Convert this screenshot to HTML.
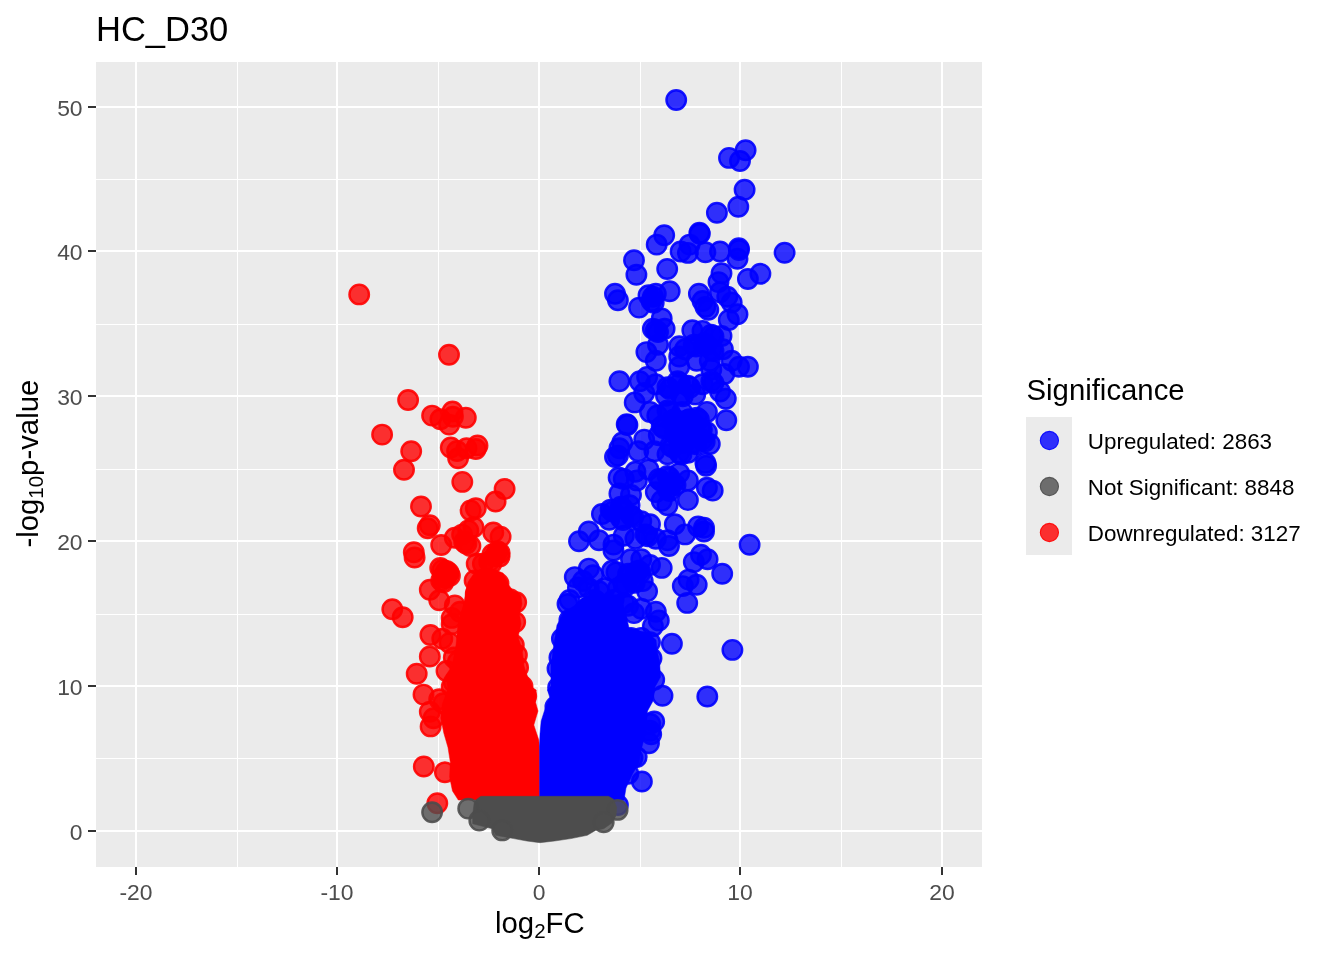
<!DOCTYPE html>
<html><head><meta charset="utf-8"><title>HC_D30</title>
<style>
html,body{margin:0;padding:0;background:#fff;}
body{width:1344px;height:960px;overflow:hidden;font-family:"Liberation Sans",sans-serif;}
svg{display:block}
text{font-family:"Liberation Sans",sans-serif;}
.ax{font-size:22.9px;fill:#4d4d4d}
.lt{font-size:22.4px;fill:#000}
.ti{font-size:29.33px;fill:#000}
.r circle{fill:#ff0000;fill-opacity:.8;stroke:#ff0000;stroke-opacity:.9;stroke-width:2.4}
.b circle{fill:#0000ff;fill-opacity:.8;stroke:#0000ff;stroke-opacity:.9;stroke-width:2.4}
.g circle{fill:#4d4d4d;fill-opacity:.8;stroke:#4d4d4d;stroke-opacity:.9;stroke-width:2.4}
</style></head><body>
<svg width="1344" height="960" viewBox="0 0 1344 960">
<rect width="1344" height="960" fill="#fff"/>

<rect x="96" y="62" width="886" height="805" fill="#ebebeb"/>
<g fill="#fff" shape-rendering="crispEdges"><rect x="237" y="62" width="1" height="805"/><rect x="438" y="62" width="1" height="805"/><rect x="640" y="62" width="1" height="805"/><rect x="841" y="62" width="1" height="805"/><rect x="96" y="179" width="886" height="1"/><rect x="96" y="324" width="886" height="1"/><rect x="96" y="469" width="886" height="1"/><rect x="96" y="614" width="886" height="1"/><rect x="96" y="758" width="886" height="1"/><rect x="135" y="62" width="2" height="805"/><rect x="336" y="62" width="2" height="805"/><rect x="538" y="62" width="2" height="805"/><rect x="739" y="62" width="2" height="805"/><rect x="941" y="62" width="2" height="805"/><rect x="96" y="106" width="886" height="2"/><rect x="96" y="250" width="886" height="2"/><rect x="96" y="395" width="886" height="2"/><rect x="96" y="540" width="886" height="2"/><rect x="96" y="685" width="886" height="2"/><rect x="96" y="830" width="886" height="2"/></g>
<text class="ax" x="136" y="899.5" text-anchor="middle">-20</text>
<text class="ax" x="337" y="899.5" text-anchor="middle">-10</text>
<text class="ax" x="539" y="899.5" text-anchor="middle">0</text>
<text class="ax" x="740" y="899.5" text-anchor="middle">10</text>
<text class="ax" x="942" y="899.5" text-anchor="middle">20</text>
<text class="ax" x="82.6" y="115.90" text-anchor="end">50</text>
<text class="ax" x="82.6" y="259.90" text-anchor="end">40</text>
<text class="ax" x="82.6" y="404.90" text-anchor="end">30</text>
<text class="ax" x="82.6" y="549.90" text-anchor="end">20</text>
<text class="ax" x="82.6" y="694.90" text-anchor="end">10</text>
<text class="ax" x="82.6" y="839.90" text-anchor="end">0</text>
<g fill="#333" shape-rendering="crispEdges"><rect x="135" y="867" width="2" height="8"/><rect x="336" y="867" width="2" height="8"/><rect x="538" y="867" width="2" height="8"/><rect x="739" y="867" width="2" height="8"/><rect x="941" y="867" width="2" height="8"/><rect x="88" y="106" width="8" height="2"/><rect x="88" y="250" width="8" height="2"/><rect x="88" y="395" width="8" height="2"/><rect x="88" y="540" width="8" height="2"/><rect x="88" y="685" width="8" height="2"/><rect x="88" y="830" width="8" height="2"/></g>
<text x="96" y="41.3" font-size="34.5" fill="#000">HC_D30</text>
<text class="ti" x="495" y="932.5">log<tspan font-size="20.5" dy="5.6">2</tspan><tspan dy="-5.6">FC</tspan></text>
<text class="ti" transform="translate(37.5,547.6) rotate(-90)">-log<tspan font-size="20.5" dy="5.6">10</tspan><tspan dy="-5.6">p-value</tspan></text>
<text class="ti" x="1026.5" y="399.5">Significance</text>
<rect x="1026" y="417" width="46" height="138" fill="#ebebeb"/>
<circle cx="1049.4" cy="440.5" r="9.1" fill="#0000ff" fill-opacity=".8" stroke="#0000ff" stroke-opacity=".9" stroke-width="1.1"/>
<text class="lt" x="1087.8" y="448.8">Upregulated: 2863</text>
<circle cx="1049.4" cy="486.5" r="9.1" fill="#4d4d4d" fill-opacity=".8" stroke="#4d4d4d" stroke-opacity=".9" stroke-width="1.1"/>
<text class="lt" x="1087.8" y="494.8">Not Significant: 8848</text>
<circle cx="1049.4" cy="532.5" r="9.1" fill="#ff0000" fill-opacity=".8" stroke="#ff0000" stroke-opacity=".9" stroke-width="1.1"/>
<text class="lt" x="1087.8" y="540.8">Downregulated: 3127</text>
<svg x="96" y="62" width="886" height="805" viewBox="96 62 886 805">
<g class="r">
<path d="M468.0,582.0 L475.0,572.0 L490.0,568.0 L503.0,573.0 L508.0,584.0 L514.0,592.0 L521.0,596.0 L522.0,604.0 L519.5,614.0 L521.0,624.0 L518.0,637.0 L522.0,649.0 L524.0,666.0 L527.0,675.0 L533.0,688.0 L536.2,690.0 L535.6,702.5 L538.0,711.0 L533.8,725.0 L538.8,740.0 L539.6,751.0 L539.6,800.0 L458.3,800.0 L452.5,791.0 L449.6,777.0 L450.3,762.0 L448.0,747.5 L443.8,733.0 L440.8,718.0 L442.3,704.0 L448.0,689.0 L446.0,675.0 L452.0,666.0 L456.0,645.0 L458.0,624.0 L464.0,603.0 L466.0,590.0Z" fill="#ff0000" stroke="#ff0000" stroke-width="0.5" stroke-linejoin="round"/>
<circle cx="427.7" cy="528.3" r="9.75"/><circle cx="429.8" cy="525.2" r="9.75"/><circle cx="413.8" cy="552.3" r="9.75"/><circle cx="414.6" cy="557.5" r="9.75"/><circle cx="392.3" cy="609.2" r="9.75"/><circle cx="402.7" cy="617.3" r="9.75"/><circle cx="441.2" cy="545.0" r="9.75"/><circle cx="454.8" cy="537.7" r="9.75"/><circle cx="462.1" cy="534.6" r="9.75"/><circle cx="468.3" cy="530.4" r="9.75"/><circle cx="473.5" cy="527.3" r="9.75"/><circle cx="464.2" cy="541.9" r="9.75"/><circle cx="470.4" cy="546.0" r="9.75"/><circle cx="493.3" cy="532.5" r="9.75"/><circle cx="500.6" cy="536.7" r="9.75"/><circle cx="497.5" cy="551.2" r="9.75"/><circle cx="499.6" cy="556.5" r="9.75"/><circle cx="440.2" cy="567.9" r="9.75"/><circle cx="446.5" cy="571.0" r="9.75"/><circle cx="443.3" cy="576.2" r="9.75"/><circle cx="441.2" cy="580.4" r="9.75"/><circle cx="429.8" cy="589.8" r="9.75"/><circle cx="439.2" cy="600.2" r="9.75"/><circle cx="476.7" cy="563.8" r="9.75"/><circle cx="482.9" cy="563.8" r="9.75"/><circle cx="489.2" cy="561.7" r="9.75"/><circle cx="474.6" cy="580.4" r="9.75"/><circle cx="485.0" cy="582.5" r="9.75"/><circle cx="498.5" cy="583.5" r="9.75"/><circle cx="454.8" cy="605.4" r="9.75"/><circle cx="451.7" cy="617.9" r="9.75"/><circle cx="460.0" cy="611.7" r="9.75"/><circle cx="451.7" cy="624.2" r="9.75"/><circle cx="516.2" cy="602.3" r="9.75"/><circle cx="510.0" cy="599.2" r="9.75"/><circle cx="515.2" cy="622.1" r="9.75"/><circle cx="430.4" cy="635.0" r="9.75"/><circle cx="442.3" cy="638.8" r="9.75"/><circle cx="449.6" cy="642.9" r="9.75"/><circle cx="429.8" cy="656.5" r="9.75"/><circle cx="453.8" cy="657.5" r="9.75"/><circle cx="457.9" cy="661.7" r="9.75"/><circle cx="416.7" cy="673.8" r="9.75"/><circle cx="446.5" cy="671.0" r="9.75"/><circle cx="423.5" cy="694.6" r="9.75"/><circle cx="439.2" cy="699.2" r="9.75"/><circle cx="453.8" cy="682.5" r="9.75"/><circle cx="451.7" cy="686.7" r="9.75"/><circle cx="429.8" cy="711.7" r="9.75"/><circle cx="443.3" cy="703.3" r="9.75"/><circle cx="359.2" cy="294.4" r="9.75"/><circle cx="449.0" cy="354.8" r="9.75"/><circle cx="408.1" cy="400.0" r="9.75"/><circle cx="382.1" cy="434.6" r="9.75"/><circle cx="432.1" cy="415.6" r="9.75"/><circle cx="440.4" cy="419.2" r="9.75"/><circle cx="452.5" cy="411.5" r="9.75"/><circle cx="452.9" cy="416.7" r="9.75"/><circle cx="449.2" cy="424.6" r="9.75"/><circle cx="465.8" cy="417.7" r="9.75"/><circle cx="411.2" cy="451.2" r="9.75"/><circle cx="404.0" cy="469.8" r="9.75"/><circle cx="450.8" cy="447.5" r="9.75"/><circle cx="457.1" cy="451.0" r="9.75"/><circle cx="458.1" cy="458.3" r="9.75"/><circle cx="466.5" cy="448.3" r="9.75"/><circle cx="475.8" cy="449.0" r="9.75"/><circle cx="477.5" cy="445.4" r="9.75"/><circle cx="462.3" cy="481.9" r="9.75"/><circle cx="504.6" cy="489.0" r="9.75"/><circle cx="495.6" cy="501.5" r="9.75"/><circle cx="421.0" cy="506.5" r="9.75"/><circle cx="470.6" cy="510.4" r="9.75"/><circle cx="475.8" cy="508.3" r="9.75"/><circle cx="492.5" cy="554.2" r="9.75"/><circle cx="447.7" cy="574.0" r="9.75"/><circle cx="484.2" cy="579.2" r="9.75"/><circle cx="494.6" cy="587.5" r="9.75"/><circle cx="475.8" cy="593.8" r="9.75"/><circle cx="488.3" cy="595.8" r="9.75"/><circle cx="502.9" cy="597.9" r="9.75"/><circle cx="437.3" cy="803.3" r="9.75"/><circle cx="444.9" cy="772.3" r="9.75"/><circle cx="430.6" cy="726.4" r="9.75"/><circle cx="433.5" cy="718.3" r="9.75"/><circle cx="423.8" cy="766.5" r="9.75"/><circle cx="513.8" cy="645.0" r="9.75"/><circle cx="516.9" cy="655.0" r="9.75"/><circle cx="518.1" cy="667.5" r="9.75"/><circle cx="522.5" cy="686.2" r="9.75"/><circle cx="526.2" cy="696.2" r="9.75"/><circle cx="466.4" cy="543.7" r="9.75"/><circle cx="499.7" cy="553.0" r="9.75"/><circle cx="442.4" cy="569.7" r="9.75"/><circle cx="448.7" cy="572.8" r="9.75"/><circle cx="445.5" cy="578.0" r="9.75"/><circle cx="443.4" cy="582.2" r="9.75"/><circle cx="491.4" cy="563.5" r="9.75"/><circle cx="487.2" cy="584.3" r="9.75"/><circle cx="482.6" cy="583.7" r="9.75"/><circle cx="494.7" cy="556.0" r="9.75"/><circle cx="449.9" cy="575.8" r="9.75"/><circle cx="486.4" cy="581.0" r="9.75"/><circle cx="496.8" cy="589.3" r="9.75"/><circle cx="490.5" cy="597.6" r="9.75"/><circle cx="505.1" cy="599.7" r="9.75"/>
</g>
<g class="b">
<path d="M539.6,800.0 L539.6,751.0 L539.5,746.0 L540.0,734.0 L541.2,721.0 L545.0,709.0 L549.8,697.5 L547.5,690.0 L551.0,686.0 L551.0,665.0 L554.5,640.0 L557.0,625.0 L564.0,612.0 L574.0,606.0 L582.0,598.0 L600.0,594.0 L620.0,595.0 L625.0,610.0 L629.0,628.0 L648.0,633.0 L656.0,640.0 L657.0,650.0 L659.5,661.0 L660.5,677.0 L655.0,687.0 L653.0,701.0 L647.5,711.0 L646.0,732.0 L640.8,751.0 L638.7,763.0 L632.5,774.0 L626.0,788.0 L624.0,800.0Z" fill="#0000ff" stroke="#0000ff" stroke-width="0.5" stroke-linejoin="round"/>
<circle cx="676.2" cy="100.0" r="9.75"/><circle cx="745.6" cy="150.2" r="9.75"/><circle cx="729.0" cy="157.9" r="9.75"/><circle cx="740.0" cy="161.0" r="9.75"/><circle cx="744.6" cy="189.8" r="9.75"/><circle cx="738.3" cy="206.7" r="9.75"/><circle cx="716.9" cy="212.7" r="9.75"/><circle cx="699.4" cy="232.7" r="9.75"/><circle cx="699.8" cy="233.8" r="9.75"/><circle cx="664.2" cy="235.2" r="9.75"/><circle cx="656.7" cy="244.6" r="9.75"/><circle cx="689.6" cy="244.6" r="9.75"/><circle cx="738.8" cy="248.3" r="9.75"/><circle cx="784.6" cy="252.7" r="9.75"/><circle cx="760.4" cy="273.8" r="9.75"/><circle cx="747.9" cy="279.0" r="9.75"/><circle cx="747.9" cy="366.7" r="9.75"/><circle cx="749.6" cy="544.8" r="9.75"/><circle cx="707.3" cy="696.5" r="9.75"/><circle cx="662.5" cy="695.8" r="9.75"/><circle cx="654.2" cy="679.8" r="9.75"/><circle cx="654.2" cy="721.5" r="9.75"/><circle cx="650.0" cy="730.8" r="9.75"/><circle cx="649.0" cy="743.3" r="9.75"/><circle cx="650.2" cy="723.8" r="9.75"/><circle cx="651.2" cy="734.2" r="9.75"/><circle cx="641.9" cy="781.5" r="9.75"/><circle cx="617.9" cy="805.0" r="9.75"/><circle cx="632.5" cy="758.1" r="9.75"/><circle cx="628.3" cy="773.8" r="9.75"/><circle cx="636.7" cy="757.1" r="9.75"/><circle cx="579.0" cy="541.2" r="9.75"/><circle cx="574.8" cy="577.1" r="9.75"/><circle cx="577.9" cy="587.5" r="9.75"/><circle cx="569.6" cy="600.0" r="9.75"/><circle cx="567.5" cy="604.0" r="9.75"/><circle cx="555.4" cy="706.7" r="9.75"/><circle cx="553.3" cy="721.2" r="9.75"/><circle cx="569.4" cy="620.0" r="9.75"/><circle cx="561.9" cy="638.8" r="9.75"/><circle cx="559.4" cy="657.5" r="9.75"/><circle cx="557.5" cy="668.8" r="9.75"/><circle cx="558.1" cy="687.5" r="9.75"/><circle cx="634.7" cy="402.4" r="9.75"/><circle cx="644.2" cy="392.9" r="9.75"/><circle cx="650.0" cy="411.9" r="9.75"/><circle cx="657.3" cy="415.5" r="9.75"/><circle cx="666.0" cy="395.8" r="9.75"/><circle cx="680.6" cy="394.4" r="9.75"/><circle cx="695.2" cy="394.4" r="9.75"/><circle cx="706.9" cy="411.9" r="9.75"/><circle cx="725.8" cy="398.8" r="9.75"/><circle cx="726.3" cy="420.2" r="9.75"/><circle cx="720.0" cy="391.5" r="9.75"/><circle cx="626.7" cy="424.3" r="9.75"/><circle cx="627.4" cy="425.0" r="9.75"/><circle cx="667.5" cy="410.4" r="9.75"/><circle cx="674.8" cy="419.2" r="9.75"/><circle cx="682.1" cy="411.9" r="9.75"/><circle cx="689.4" cy="419.2" r="9.75"/><circle cx="696.7" cy="417.7" r="9.75"/><circle cx="682.1" cy="427.9" r="9.75"/><circle cx="690.8" cy="430.8" r="9.75"/><circle cx="699.6" cy="427.9" r="9.75"/><circle cx="706.9" cy="432.3" r="9.75"/><circle cx="674.8" cy="433.8" r="9.75"/><circle cx="661.7" cy="426.5" r="9.75"/><circle cx="658.8" cy="435.2" r="9.75"/><circle cx="682.1" cy="441.0" r="9.75"/><circle cx="693.8" cy="442.5" r="9.75"/><circle cx="702.5" cy="439.6" r="9.75"/><circle cx="709.8" cy="444.0" r="9.75"/><circle cx="670.4" cy="445.4" r="9.75"/><circle cx="679.2" cy="452.7" r="9.75"/><circle cx="687.9" cy="452.7" r="9.75"/><circle cx="667.5" cy="454.2" r="9.75"/><circle cx="644.2" cy="439.6" r="9.75"/><circle cx="638.3" cy="451.3" r="9.75"/><circle cx="654.4" cy="451.3" r="9.75"/><circle cx="622.3" cy="442.5" r="9.75"/><circle cx="619.4" cy="448.3" r="9.75"/><circle cx="615.0" cy="457.1" r="9.75"/><circle cx="617.9" cy="455.6" r="9.75"/><circle cx="705.4" cy="462.9" r="9.75"/><circle cx="706.1" cy="465.8" r="9.75"/><circle cx="635.4" cy="471.7" r="9.75"/><circle cx="648.5" cy="469.5" r="9.75"/><circle cx="618.6" cy="477.5" r="9.75"/><circle cx="623.8" cy="479.0" r="9.75"/><circle cx="636.9" cy="480.4" r="9.75"/><circle cx="619.4" cy="493.5" r="9.75"/><circle cx="631.0" cy="495.0" r="9.75"/><circle cx="658.8" cy="479.0" r="9.75"/><circle cx="667.5" cy="476.0" r="9.75"/><circle cx="679.2" cy="473.1" r="9.75"/><circle cx="687.9" cy="480.4" r="9.75"/><circle cx="655.8" cy="492.1" r="9.75"/><circle cx="661.7" cy="500.8" r="9.75"/><circle cx="667.5" cy="505.2" r="9.75"/><circle cx="673.3" cy="483.3" r="9.75"/><circle cx="667.5" cy="489.2" r="9.75"/><circle cx="706.9" cy="487.7" r="9.75"/><circle cx="712.7" cy="490.6" r="9.75"/><circle cx="687.9" cy="500.1" r="9.75"/><circle cx="601.9" cy="514.0" r="9.75"/><circle cx="610.6" cy="509.6" r="9.75"/><circle cx="620.8" cy="506.7" r="9.75"/><circle cx="629.6" cy="505.2" r="9.75"/><circle cx="631.0" cy="515.4" r="9.75"/><circle cx="620.8" cy="518.3" r="9.75"/><circle cx="609.2" cy="519.8" r="9.75"/><circle cx="641.3" cy="521.3" r="9.75"/><circle cx="650.0" cy="524.2" r="9.75"/><circle cx="674.8" cy="524.2" r="9.75"/><circle cx="698.1" cy="526.4" r="9.75"/><circle cx="704.0" cy="527.8" r="9.75"/><circle cx="634.0" cy="260.2" r="9.75"/><circle cx="636.4" cy="274.8" r="9.75"/><circle cx="667.2" cy="269.0" r="9.75"/><circle cx="615.0" cy="293.8" r="9.75"/><circle cx="617.9" cy="300.3" r="9.75"/><circle cx="639.1" cy="307.6" r="9.75"/><circle cx="648.5" cy="295.2" r="9.75"/><circle cx="652.9" cy="296.7" r="9.75"/><circle cx="655.8" cy="293.8" r="9.75"/><circle cx="651.5" cy="301.0" r="9.75"/><circle cx="669.7" cy="291.3" r="9.75"/><circle cx="680.6" cy="251.5" r="9.75"/><circle cx="687.9" cy="252.9" r="9.75"/><circle cx="705.4" cy="252.2" r="9.75"/><circle cx="720.0" cy="251.5" r="9.75"/><circle cx="737.5" cy="258.8" r="9.75"/><circle cx="739.0" cy="250.0" r="9.75"/><circle cx="721.5" cy="273.3" r="9.75"/><circle cx="718.5" cy="282.1" r="9.75"/><circle cx="698.9" cy="293.8" r="9.75"/><circle cx="702.5" cy="301.0" r="9.75"/><circle cx="705.4" cy="306.9" r="9.75"/><circle cx="708.3" cy="309.8" r="9.75"/><circle cx="720.0" cy="292.3" r="9.75"/><circle cx="727.3" cy="296.7" r="9.75"/><circle cx="731.7" cy="302.5" r="9.75"/><circle cx="728.8" cy="320.0" r="9.75"/><circle cx="737.5" cy="314.2" r="9.75"/><circle cx="661.7" cy="318.5" r="9.75"/><circle cx="652.9" cy="328.8" r="9.75"/><circle cx="655.8" cy="330.2" r="9.75"/><circle cx="664.6" cy="328.8" r="9.75"/><circle cx="692.3" cy="330.2" r="9.75"/><circle cx="702.5" cy="330.9" r="9.75"/><circle cx="711.3" cy="334.6" r="9.75"/><circle cx="721.5" cy="336.0" r="9.75"/><circle cx="658.0" cy="344.8" r="9.75"/><circle cx="646.4" cy="352.1" r="9.75"/><circle cx="655.8" cy="360.8" r="9.75"/><circle cx="679.2" cy="346.3" r="9.75"/><circle cx="685.0" cy="349.2" r="9.75"/><circle cx="693.8" cy="344.8" r="9.75"/><circle cx="704.0" cy="343.3" r="9.75"/><circle cx="711.3" cy="349.2" r="9.75"/><circle cx="722.9" cy="349.2" r="9.75"/><circle cx="679.2" cy="356.5" r="9.75"/><circle cx="696.7" cy="360.8" r="9.75"/><circle cx="709.8" cy="360.8" r="9.75"/><circle cx="679.2" cy="366.7" r="9.75"/><circle cx="711.3" cy="369.6" r="9.75"/><circle cx="724.4" cy="374.0" r="9.75"/><circle cx="731.7" cy="360.8" r="9.75"/><circle cx="739.0" cy="366.7" r="9.75"/><circle cx="619.4" cy="381.3" r="9.75"/><circle cx="639.8" cy="381.3" r="9.75"/><circle cx="647.1" cy="376.9" r="9.75"/><circle cx="655.8" cy="384.2" r="9.75"/><circle cx="667.5" cy="387.1" r="9.75"/><circle cx="677.7" cy="381.3" r="9.75"/><circle cx="687.9" cy="385.6" r="9.75"/><circle cx="711.3" cy="381.3" r="9.75"/><circle cx="702.5" cy="384.2" r="9.75"/><circle cx="599.0" cy="540.2" r="9.75"/><circle cx="588.8" cy="531.5" r="9.75"/><circle cx="613.5" cy="544.6" r="9.75"/><circle cx="613.5" cy="550.4" r="9.75"/><circle cx="623.8" cy="535.8" r="9.75"/><circle cx="635.4" cy="538.8" r="9.75"/><circle cx="645.6" cy="534.4" r="9.75"/><circle cx="655.8" cy="538.8" r="9.75"/><circle cx="667.5" cy="540.2" r="9.75"/><circle cx="669.0" cy="546.0" r="9.75"/><circle cx="685.0" cy="534.4" r="9.75"/><circle cx="704.0" cy="531.5" r="9.75"/><circle cx="701.0" cy="554.8" r="9.75"/><circle cx="707.6" cy="559.2" r="9.75"/><circle cx="693.8" cy="562.1" r="9.75"/><circle cx="722.2" cy="573.8" r="9.75"/><circle cx="688.6" cy="579.6" r="9.75"/><circle cx="696.7" cy="584.7" r="9.75"/><circle cx="682.8" cy="586.1" r="9.75"/><circle cx="687.2" cy="602.9" r="9.75"/><circle cx="661.7" cy="567.9" r="9.75"/><circle cx="650.0" cy="565.0" r="9.75"/><circle cx="641.3" cy="559.2" r="9.75"/><circle cx="631.0" cy="559.2" r="9.75"/><circle cx="638.3" cy="570.8" r="9.75"/><circle cx="628.1" cy="573.8" r="9.75"/><circle cx="616.5" cy="572.3" r="9.75"/><circle cx="612.1" cy="570.8" r="9.75"/><circle cx="588.8" cy="568.6" r="9.75"/><circle cx="593.1" cy="575.2" r="9.75"/><circle cx="582.9" cy="581.0" r="9.75"/><circle cx="588.8" cy="588.3" r="9.75"/><circle cx="599.0" cy="591.3" r="9.75"/><circle cx="604.8" cy="588.3" r="9.75"/><circle cx="647.1" cy="591.3" r="9.75"/><circle cx="642.7" cy="581.0" r="9.75"/><circle cx="632.5" cy="581.0" r="9.75"/><circle cx="623.8" cy="584.0" r="9.75"/><circle cx="617.9" cy="588.3" r="9.75"/><circle cx="655.8" cy="611.7" r="9.75"/><circle cx="658.8" cy="620.4" r="9.75"/><circle cx="652.9" cy="626.3" r="9.75"/><circle cx="634.0" cy="613.1" r="9.75"/><circle cx="623.8" cy="602.9" r="9.75"/><circle cx="628.1" cy="605.8" r="9.75"/><circle cx="613.5" cy="600.0" r="9.75"/><circle cx="641.3" cy="608.8" r="9.75"/><circle cx="671.9" cy="643.8" r="9.75"/><circle cx="732.4" cy="649.9" r="9.75"/><circle cx="631.0" cy="637.9" r="9.75"/><circle cx="641.3" cy="637.9" r="9.75"/><circle cx="650.0" cy="642.3" r="9.75"/><circle cx="651.5" cy="658.3" r="9.75"/><circle cx="648.5" cy="667.1" r="9.75"/><circle cx="638.3" cy="646.7" r="9.75"/><circle cx="623.8" cy="640.8" r="9.75"/><circle cx="609.2" cy="632.1" r="9.75"/><circle cx="594.6" cy="624.8" r="9.75"/><circle cx="587.3" cy="611.7" r="9.75"/><circle cx="601.9" cy="611.7" r="9.75"/><circle cx="594.6" cy="600.0" r="9.75"/><circle cx="609.2" cy="617.5" r="9.75"/><circle cx="616.5" cy="629.2" r="9.75"/><circle cx="601.9" cy="640.8" r="9.75"/><circle cx="587.3" cy="640.8" r="9.75"/><circle cx="616.5" cy="649.6" r="9.75"/><circle cx="631.0" cy="656.9" r="9.75"/><circle cx="601.9" cy="658.3" r="9.75"/><circle cx="587.3" cy="661.3" r="9.75"/><circle cx="616.5" cy="665.6" r="9.75"/><circle cx="638.3" cy="665.6" r="9.75"/><circle cx="682.8" cy="396.2" r="9.75"/><circle cx="669.7" cy="412.2" r="9.75"/><circle cx="677.0" cy="421.0" r="9.75"/><circle cx="672.4" cy="420.4" r="9.75"/><circle cx="691.6" cy="421.0" r="9.75"/><circle cx="687.0" cy="420.4" r="9.75"/><circle cx="698.9" cy="419.5" r="9.75"/><circle cx="684.3" cy="429.7" r="9.75"/><circle cx="693.0" cy="432.6" r="9.75"/><circle cx="688.4" cy="432.0" r="9.75"/><circle cx="701.8" cy="429.7" r="9.75"/><circle cx="677.0" cy="435.6" r="9.75"/><circle cx="663.9" cy="428.3" r="9.75"/><circle cx="684.3" cy="442.8" r="9.75"/><circle cx="679.7" cy="442.2" r="9.75"/><circle cx="696.0" cy="444.3" r="9.75"/><circle cx="704.7" cy="441.4" r="9.75"/><circle cx="672.6" cy="447.2" r="9.75"/><circle cx="681.4" cy="454.5" r="9.75"/><circle cx="661.0" cy="480.8" r="9.75"/><circle cx="669.7" cy="477.8" r="9.75"/><circle cx="675.5" cy="485.1" r="9.75"/><circle cx="669.7" cy="491.0" r="9.75"/><circle cx="612.8" cy="511.4" r="9.75"/><circle cx="623.0" cy="508.5" r="9.75"/><circle cx="633.2" cy="517.2" r="9.75"/><circle cx="623.0" cy="520.1" r="9.75"/><circle cx="653.7" cy="302.8" r="9.75"/><circle cx="658.0" cy="332.0" r="9.75"/><circle cx="713.5" cy="336.4" r="9.75"/><circle cx="696.0" cy="346.6" r="9.75"/><circle cx="706.2" cy="345.1" r="9.75"/><circle cx="713.5" cy="351.0" r="9.75"/><circle cx="669.7" cy="388.9" r="9.75"/><circle cx="679.9" cy="383.1" r="9.75"/><circle cx="690.1" cy="387.4" r="9.75"/><circle cx="713.5" cy="383.1" r="9.75"/><circle cx="647.8" cy="536.2" r="9.75"/><circle cx="640.5" cy="572.6" r="9.75"/><circle cx="635.9" cy="572.0" r="9.75"/><circle cx="630.3" cy="575.6" r="9.75"/><circle cx="634.7" cy="582.8" r="9.75"/><circle cx="626.0" cy="585.8" r="9.75"/><circle cx="604.1" cy="613.5" r="9.75"/><circle cx="596.8" cy="601.8" r="9.75"/>
</g>
<g class="g">
<path d="M472.7,814.0 L472.7,823.8 L492.4,828.8 L495.7,835.3 L513.7,838.6 L526.8,841.0 L539.9,842.7 L554.6,841.0 L571.0,838.6 L587.3,835.3 L595.5,830.4 L603.7,828.8 L611.9,823.0 L616.0,815.7 L616.8,807.5 L613.5,799.3 L608.6,796.3 L480.9,796.3 L474.4,800.9Z" fill="#4d4d4d" stroke="#4d4d4d" stroke-width="0.5" stroke-linejoin="round"/>
<circle cx="468.2" cy="808.6" r="9.75"/><circle cx="479.3" cy="820.6" r="9.75"/><circle cx="502.2" cy="830.4" r="9.75"/><circle cx="617.6" cy="809.9" r="9.75"/><circle cx="603.7" cy="822.2" r="9.75"/><circle cx="432.1" cy="812.3" r="9.75"/>
</g>
</svg>
</svg></body></html>
